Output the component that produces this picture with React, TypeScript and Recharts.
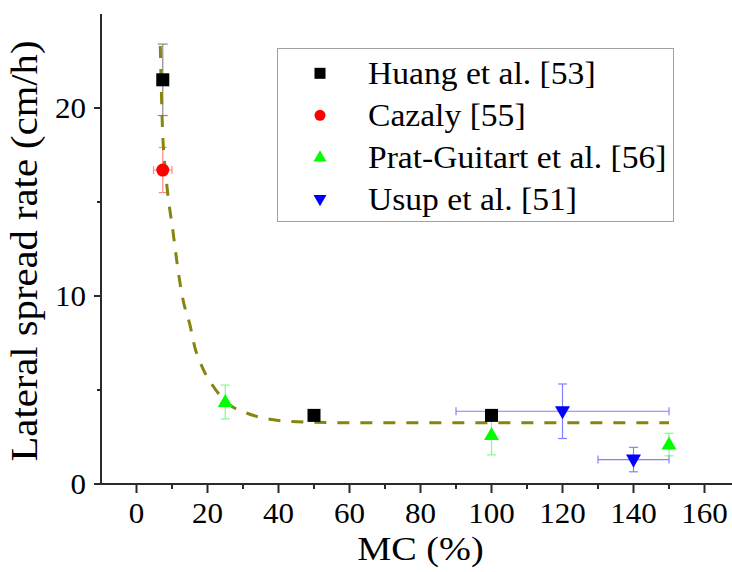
import React from 'react'
import { ComposedChart, Scatter, Line, XAxis, YAxis, ErrorBar, Legend } from 'recharts'

const SERIF = "'Liberation Serif', 'Times New Roman', Times, serif"
const AXIS = '#2a2a2a'

// MC (%) vs lateral spread rate (cm/h); ex / ey are symmetric error half-widths
const huangData = [
  { x: 7.4, y: 21.5, ey: 1.9 },
  { x: 50, y: 3.65, ey: 0.12 },
  { x: 100, y: 3.65, ey: 0.12 },
]
const cazalyData = [{ x: 7.4, y: 16.7, ex: 2.6, ey: 1.2 }]
const pratData = [
  { x: 25, y: 4.36, ey: 0.9 },
  { x: 100, y: 2.6, ey: 1.05 },
  { x: 150, y: 2.1, ey: 0.6 },
]
const usupData = [
  { x: 120, y: 3.87, ex: 30, ey: 1.45 },
  { x: 140, y: 1.3, ex: 10, ey: 0.65 },
]

// exponential-decay fit
const fitCurve = [
  { x: 6.7, y: 23.3 },
  { x: 7.3, y: 19.0 },
  { x: 8.4, y: 16.2 },
  { x: 10.3, y: 13.4 },
  { x: 12, y: 11.0 },
  { x: 13.1, y: 9.8 },
  { x: 15, y: 8.5 },
  { x: 16.4, y: 7.3 },
  { x: 18.8, y: 6.1 },
  { x: 21.6, y: 5.2 },
  { x: 26.3, y: 4.2 },
  { x: 30, y: 3.85 },
  { x: 33.8, y: 3.6 },
  { x: 40, y: 3.38 },
  { x: 50, y: 3.28 },
  { x: 60, y: 3.26 },
  { x: 150, y: 3.26 },
]

const seriesNames = ['Huang et al. [53]', 'Cazaly [55]', 'Prat-Guitart et al. [56]', 'Usup et al. [51]']
const seriesColors = ['#000000', '#ff0000', '#00ff00', '#0000ff']
const errorColors = ['#8a8a8a', '#ff8a8a', '#80ff80', '#8080ff']

const xTicks = [0, 10, 20, 30, 40, 50, 60, 70, 80, 90, 100, 110, 120, 130, 140, 150, 160]
const yTicks = [0, 5, 10, 15, 20]
const X_DOMAIN = [-10, 170]
const Y_DOMAIN = [0, 25]

type MarkProps = { cx?: number; cy?: number; fill?: string; size?: number }

const SquareMark = ({ cx = 0, cy = 0, fill = '#000', size = 13 }: MarkProps) => (
  <rect x={cx - size / 2} y={cy - size / 2} width={size} height={size} fill={fill} />
)
const CircleMark = ({ cx = 0, cy = 0, fill = '#000', size = 13 }: MarkProps) => (
  <circle cx={cx} cy={cy} r={size / 2} fill={fill} />
)
const UpMark = ({ cx = 0, cy = 0, fill = '#000', size = 15 }: MarkProps) => {
  const h = size * 0.87
  return (
    <polygon
      points={`${cx},${cy - h * 0.62} ${cx - size / 2},${cy + h * 0.38} ${cx + size / 2},${cy + h * 0.38}`}
      fill={fill}
    />
  )
}
const DownMark = ({ cx = 0, cy = 0, fill = '#000', size = 15 }: MarkProps) => {
  const h = size * 0.87
  return (
    <polygon
      points={`${cx},${cy + h * 0.62} ${cx - size / 2},${cy - h * 0.38} ${cx + size / 2},${cy - h * 0.38}`}
      fill={fill}
    />
  )
}
const marks = [SquareMark, CircleMark, UpMark, DownMark]

// ticks are drawn by hand so minor ticks can be shorter and unlabeled
const BottomTick = (props: any) => {
  const { x, y, payload } = props
  const major = payload.value % 20 === 0
  return (
    <g>
      <line x1={x} x2={x} y1={y} y2={y + (major ? 9 : 5)} stroke={AXIS} strokeWidth={2} />
      {major && (
        <text
          transform={`translate(${x},${y + 39}) scale(1.07,1)`}
          textAnchor="middle"
          fontFamily={SERIF}
          fontSize={29}
          fill="#000"
        >
          {payload.value}
        </text>
      )}
    </g>
  )
}

const TopTick = (props: any) => {
  const { x, y, payload } = props
  const major = payload.value % 20 === 0
  return <line x1={x} x2={x} y1={y} y2={y + (major ? 9 : 4)} stroke={AXIS} strokeWidth={2} />
}

const LeftTick = (props: any) => {
  const { x, y, payload } = props
  const major = payload.value % 10 === 0
  return (
    <g>
      <line x1={x - (major ? 7 : 4)} x2={x} y1={y} y2={y} stroke={AXIS} strokeWidth={2} />
      {major && (
        <text
          transform={`translate(${x - 15},${y + 10}) scale(1.07,1)`}
          textAnchor="end"
          fontFamily={SERIF}
          fontSize={29}
          fill="#000"
        >
          {payload.value}
        </text>
      )}
    </g>
  )
}

const RightTick = (props: any) => {
  const { x, y, payload } = props
  const major = payload.value % 10 === 0
  return <line x1={x - (major ? 9 : 4)} x2={x} y1={y} y2={y} stroke={AXIS} strokeWidth={2} />
}

const XTitle = (props: any) => {
  const vb = props.viewBox || { x: 101, y: 484, width: 639, height: 88 }
  return (
    <text
      transform={`translate(${vb.x + vb.width / 2},${vb.y + 76}) scale(1.16,1)`}
      textAnchor="middle"
      fontFamily={SERIF}
      fontSize={33}
      fill="#000"
    >
      MC (%)
    </text>
  )
}

const YTitle = (props: any) => {
  const vb = props.viewBox || { x: 0, y: 14, width: 101, height: 470 }
  return (
    <text
      transform={`translate(37,${vb.y + vb.height / 2 + 2}) rotate(-90) scale(1.07,1)`}
      textAnchor="middle"
      fontFamily={SERIF}
      fontSize={38}
      fill="#000"
    >
      Lateral spread rate (cm/h)
    </text>
  )
}

const LegendBox = () => (
  <svg width={397} height={174} style={{ display: 'block' }}>
    <rect x={0.5} y={0.5} width={396} height={173} fill="#fff" stroke="#a0a0a0" />
    {seriesNames.map((name, i) => {
      const Mark = marks[i]
      const cy = 25.3 + i * 42
      return (
        <g key={name}>
          <Mark cx={43} cy={cy} fill={seriesColors[i]} size={i >= 2 ? 13 : 11} />
          <text
            transform={`translate(91,${cy + 11}) scale(1.05,1)`}
            fontFamily={SERIF}
            fontSize={32}
            fill="#000"
          >
            {name}
          </text>
        </g>
      )
    })}
  </svg>
)

export default function App() {
  return (
    <div
      style={{
        position: 'fixed',
        left: 0,
        top: 0,
        width: 732,
        height: 572,
        overflow: 'hidden',
        background: '#fff',
      }}
    >
      <ComposedChart width={750} height={572} margin={{ top: 14, right: 10, left: 0, bottom: 0 }}>
        <XAxis
          dataKey="x"
          type="number"
          domain={X_DOMAIN}
          allowDataOverflow
          ticks={xTicks}
          interval={0}
          height={88}
          tickSize={0}
          tickMargin={0}
          tickLine={false}
          tick={BottomTick}
          axisLine={{ stroke: AXIS, strokeWidth: 2 }}
          label={<XTitle />}
        />
        <XAxis
          xAxisId="top"
          orientation="top"
          dataKey="x"
          type="number"
          domain={X_DOMAIN}
          allowDataOverflow
          ticks={xTicks}
          interval={0}
          height={0}
          tickSize={0}
          tickMargin={0}
          tickLine={false}
          tick={TopTick}
          axisLine={{ stroke: AXIS, strokeWidth: 2 }}
        />
        <YAxis
          dataKey="y"
          type="number"
          domain={Y_DOMAIN}
          allowDataOverflow
          ticks={yTicks}
          interval={0}
          width={101}
          tickSize={0}
          tickMargin={0}
          tickLine={false}
          tick={LeftTick}
          axisLine={{ stroke: AXIS, strokeWidth: 2 }}
          label={<YTitle />}
        />
        <YAxis
          yAxisId="right"
          orientation="right"
          dataKey="y"
          type="number"
          domain={Y_DOMAIN}
          allowDataOverflow
          ticks={yTicks}
          interval={0}
          width={0}
          tickSize={0}
          tickMargin={0}
          tickLine={false}
          tick={RightTick}
          axisLine={{ stroke: AXIS, strokeWidth: 2 }}
        />
        <Legend
          layout="vertical"
          align="center"
          verticalAlign="middle"
          content={<LegendBox />}
          wrapperStyle={{ left: 277, top: 48, width: 397, height: 174 }}
        />

        <Scatter
          name={seriesNames[0]}
          data={huangData}
          fill={seriesColors[0]}
          isAnimationActive={false}
          shape={(p: any) => <SquareMark cx={p.cx} cy={p.cy} fill={seriesColors[0]} size={13} />}
        >
          <ErrorBar dataKey="ey" direction="y" width={5} stroke={errorColors[0]} strokeWidth={1.2} />
        </Scatter>
        <Scatter
          name={seriesNames[1]}
          data={cazalyData}
          fill={seriesColors[1]}
          isAnimationActive={false}
          shape={(p: any) => <CircleMark cx={p.cx} cy={p.cy} fill={seriesColors[1]} size={13} />}
        >
          <ErrorBar dataKey="ey" direction="y" width={4} stroke={errorColors[1]} strokeWidth={1.2} />
          <ErrorBar dataKey="ex" direction="x" width={4} stroke={errorColors[1]} strokeWidth={1.2} />
        </Scatter>
        <Scatter
          name={seriesNames[2]}
          data={pratData}
          fill={seriesColors[2]}
          isAnimationActive={false}
          shape={(p: any) => <UpMark cx={p.cx} cy={p.cy} fill={seriesColors[2]} size={15} />}
        >
          <ErrorBar dataKey="ey" direction="y" width={4.5} stroke={errorColors[2]} strokeWidth={1.2} />
        </Scatter>
        <Scatter
          name={seriesNames[3]}
          data={usupData}
          fill={seriesColors[3]}
          isAnimationActive={false}
          shape={(p: any) => <DownMark cx={p.cx} cy={p.cy} fill={seriesColors[3]} size={15} />}
        >
          <ErrorBar dataKey="ey" direction="y" width={4.5} stroke={errorColors[3]} strokeWidth={1.2} />
          <ErrorBar dataKey="ex" direction="x" width={4} stroke={errorColors[3]} strokeWidth={1.2} />
        </Scatter>

        <Line
          data={fitCurve}
          dataKey="y"
          type="monotone"
          stroke="#858510"
          strokeWidth={3}
          strokeDasharray="12 11"
          dot={false}
          activeDot={false}
          legendType="none"
          isAnimationActive={false}
        />
      </ComposedChart>
    </div>
  )
}
